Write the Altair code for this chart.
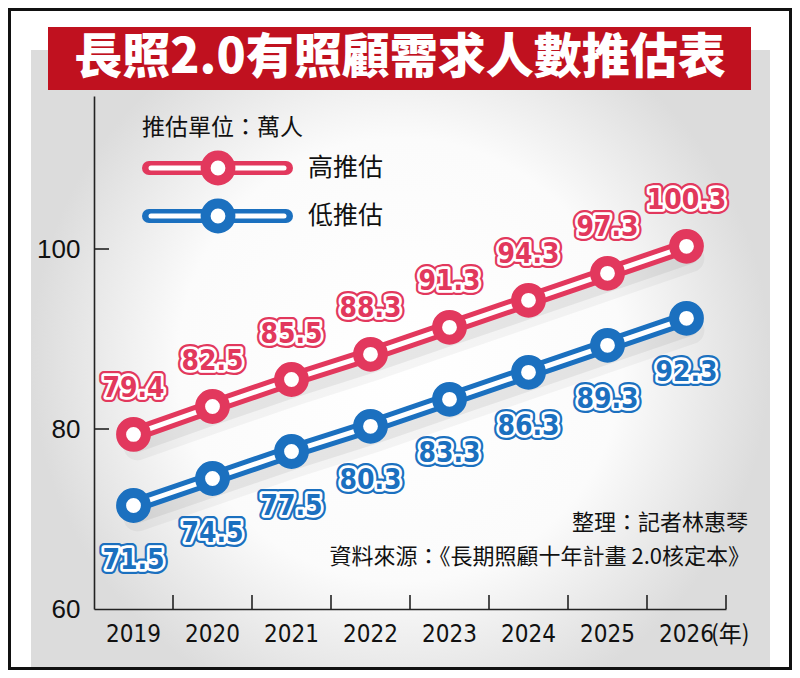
import altair as alt
import pandas as pd

# ---------------- data ----------------
years = ["2019", "2020", "2021", "2022", "2023", "2024", "2025", "2026"]
high = [79.4, 82.5, 85.5, 88.3, 91.3, 94.3, 97.3, 100.3]
low = [71.5, 74.5, 77.5, 80.3, 83.3, 86.3, 89.3, 92.3]
y_ticks = [60, 80, 100]
series_names = ["高推估", "低推估"]
title_text = "長照2.0有照顧需求人數推估表"
unit_text = "推估單位：萬人"
credit_text = "整理：記者林惠琴"
source_text = "資料來源：《長期照顧十年計畫 2.0核定本》"
year_suffix = "(年)"

# ---------------- styles ----------------
RED = "#e2385d"
BLUE = "#1b70bf"
BANNER = "#c0111f"
FONT_NARROW = "Liberation Sans Narrow, Arial Narrow, DejaVu Sans Condensed, Liberation Sans, sans-serif"
FONT_SANS = "Liberation Sans, Arial, sans-serif"
FONT_CJK = "Noto Sans CJK TC, Noto Sans CJK SC, sans-serif"
W, H = 632, 513

df = pd.DataFrame({
    "year": years * 2,
    "value": high + low,
    "series": [series_names[0]] * len(years) + [series_names[1]] * len(years),
})
tick_df = pd.DataFrame({"value": [v for v in y_ticks if v > y_ticks[0]]})
one = pd.DataFrame({"k": [0]})

x_axis = alt.Axis(title=None, ticks=False, labelAngle=0, labelFont=FONT_NARROW,
                  labelFontSize=24, labelColor="#111111", labelPadding=13,
                  domainColor="#222222", domainWidth=1.6, grid=False, zindex=1)
y_axis = alt.Axis(title=None, values=y_ticks, ticks=False, labelFont=FONT_SANS,
                  labelFontSize=26, labelColor="#111111", labelPadding=14,
                  domainColor="#222222", domainWidth=1.6, grid=False, zindex=1)
x_scale = alt.Scale(type="band", domain=years, paddingInner=0, paddingOuter=0)
y_scale = alt.Scale(domain=[60, 117], nice=False, zero=False)


def X(band=0.5):
    return alt.X("year:N", scale=x_scale, axis=x_axis, bandPosition=band)


Y = alt.Y("value:Q", scale=y_scale, axis=y_axis)
color_enc = alt.Color("series:N", scale=alt.Scale(domain=series_names, range=[RED, BLUE]), legend=None)
stroke_enc = alt.Stroke("series:N", scale=alt.Scale(domain=series_names, range=[RED, BLUE]), legend=None)

layers = []

# background panel with soft gradient
panel_grad = alt.Gradient(gradient="radial",
                          stops=[alt.GradientStop(offset=0, color="#ffffff"),
                                 alt.GradientStop(offset=0.6, color="#fbfbfb"),
                                 alt.GradientStop(offset=1, color="#dcdcdc")])
layers.append(alt.Chart(one).mark_rect(color=panel_grad).encode(
    x=alt.value(-63), x2=alt.value(676), y=alt.value(-46), y2=alt.value(574)))
# outer frame
layers.append(alt.Chart(one).mark_rect(filled=False, stroke="#111111", strokeWidth=3).encode(
    x=alt.value(-84.5), x2=alt.value(696.5), y=alt.value(-86.5), y2=alt.value(572.5)))
# title banner
layers.append(alt.Chart(one).mark_rect(color=BANNER).encode(
    x=alt.value(-46), x2=alt.value(657), y=alt.value(-69), y2=alt.value(-6)))
layers.append(alt.Chart(one).mark_text(text=title_text, font=FONT_CJK, fontSize=48, fontWeight=900,
                                       color="white", align="center", baseline="middle").encode(
    x=alt.value(306), y=alt.value(-37)))

# inward ticks
layers.append(alt.Chart(df).transform_filter(alt.datum.series == series_names[0]).mark_rule(
    color="#222222", strokeWidth=1.6).encode(x=X(1), y=alt.value(H), y2=alt.value(H - 14)))
layers.append(alt.Chart(tick_df).mark_rule(color="#222222", strokeWidth=1.6).encode(
    y=Y, x=alt.value(0), x2=alt.value(15)))

# shadows
layers.append(alt.Chart(df).mark_line(color="#000000", opacity=0.04, strokeWidth=28, xOffset=4, yOffset=12,
                                      strokeCap="round", strokeJoin="round").encode(
    x=X(), y=Y, detail="series:N"))
layers.append(alt.Chart(df).mark_line(color="#000000", opacity=0.06, strokeWidth=16, xOffset=3, yOffset=10,
                                      strokeCap="round", strokeJoin="round").encode(
    x=X(), y=Y, detail="series:N"))
# coloured lines + white inner stripe
layers.append(alt.Chart(df).mark_line(strokeWidth=15, strokeCap="round", strokeJoin="round").encode(
    x=X(), y=Y, color=color_enc))
layers.append(alt.Chart(df).mark_line(color="white", strokeWidth=5, strokeCap="round", strokeJoin="round").encode(
    x=X(), y=Y, detail="series:N"))
# ring markers
layers.append(alt.Chart(df).mark_circle(fill="white", fillOpacity=1, opacity=1, strokeWidth=10, size=616).encode(
    x=X(), y=Y, stroke=stroke_enc))

# outlined value labels
for name, dy, col in [(series_names[0], -45, RED), (series_names[1], 55, BLUE)]:
    base = alt.Chart(df).transform_filter(alt.datum.series == name)
    common = dict(dy=dy, font=FONT_NARROW, fontSize=28, fontWeight="bold", align="center", baseline="middle")
    enc = dict(x=X(), y=Y, text=alt.Text("value:Q", format=".1f"))
    layers.append(base.mark_text(fill=col, stroke=col, strokeWidth=10, strokeJoin="round", **common).encode(**enc))
    layers.append(base.mark_text(fill=col, stroke="white", strokeWidth=5.5, strokeJoin="round", **common).encode(**enc))
    layers.append(base.mark_text(fill=col, **common).encode(**enc))

# legend (drawn by hand)
layers.append(alt.Chart(one).mark_text(text=unit_text, font=FONT_CJK, fontSize=23, color="#111111",
                                       align="left", baseline="middle").encode(x=alt.value(48), y=alt.value(32)))
for i, (name, col) in enumerate(zip(series_names, [RED, BLUE])):
    yy = 72 + 48 * i
    layers.append(alt.Chart(one).mark_rule(color=col, strokeWidth=14, strokeCap="round").encode(
        x=alt.value(55), x2=alt.value(192), y=alt.value(yy)))
    layers.append(alt.Chart(one).mark_rule(color="white", strokeWidth=5, strokeCap="round").encode(
        x=alt.value(57), x2=alt.value(190), y=alt.value(yy)))
    layers.append(alt.Chart(one).mark_circle(fill="white", fillOpacity=1, opacity=1, stroke=col,
                                             strokeWidth=10, size=616).encode(x=alt.value(124), y=alt.value(yy)))
    layers.append(alt.Chart(one).mark_text(text=name, font=FONT_CJK, fontSize=25, color="#111111",
                                           align="left", baseline="middle").encode(
        x=alt.value(214), y=alt.value(yy)))

# credits and source
layers.append(alt.Chart(one).mark_text(text=credit_text, font=FONT_CJK, fontSize=22, color="#111111",
                                       align="right", baseline="middle").encode(x=alt.value(654), y=alt.value(427)))
layers.append(alt.Chart(one).mark_text(text=source_text, font=FONT_CJK, fontSize=22, color="#111111",
                                       align="right", baseline="middle").encode(x=alt.value(656), y=alt.value(461)))
# year unit suffix after last tick label
layers.append(alt.Chart(one).mark_text(text=year_suffix, font=FONT_CJK, fontSize=23, color="#111111",
                                       align="left", baseline="middle").encode(x=alt.value(617), y=alt.value(539)))

chart = alt.layer(*layers).properties(
    width=W, height=H,
    padding={"left": 86, "top": 88, "right": 66, "bottom": 61},
    autosize=alt.AutoSizeParams(type="none"),
    background="white",
).configure_view(stroke=None)

chart.save("out.html", embed_options={"renderer": "svg", "actions": False})
